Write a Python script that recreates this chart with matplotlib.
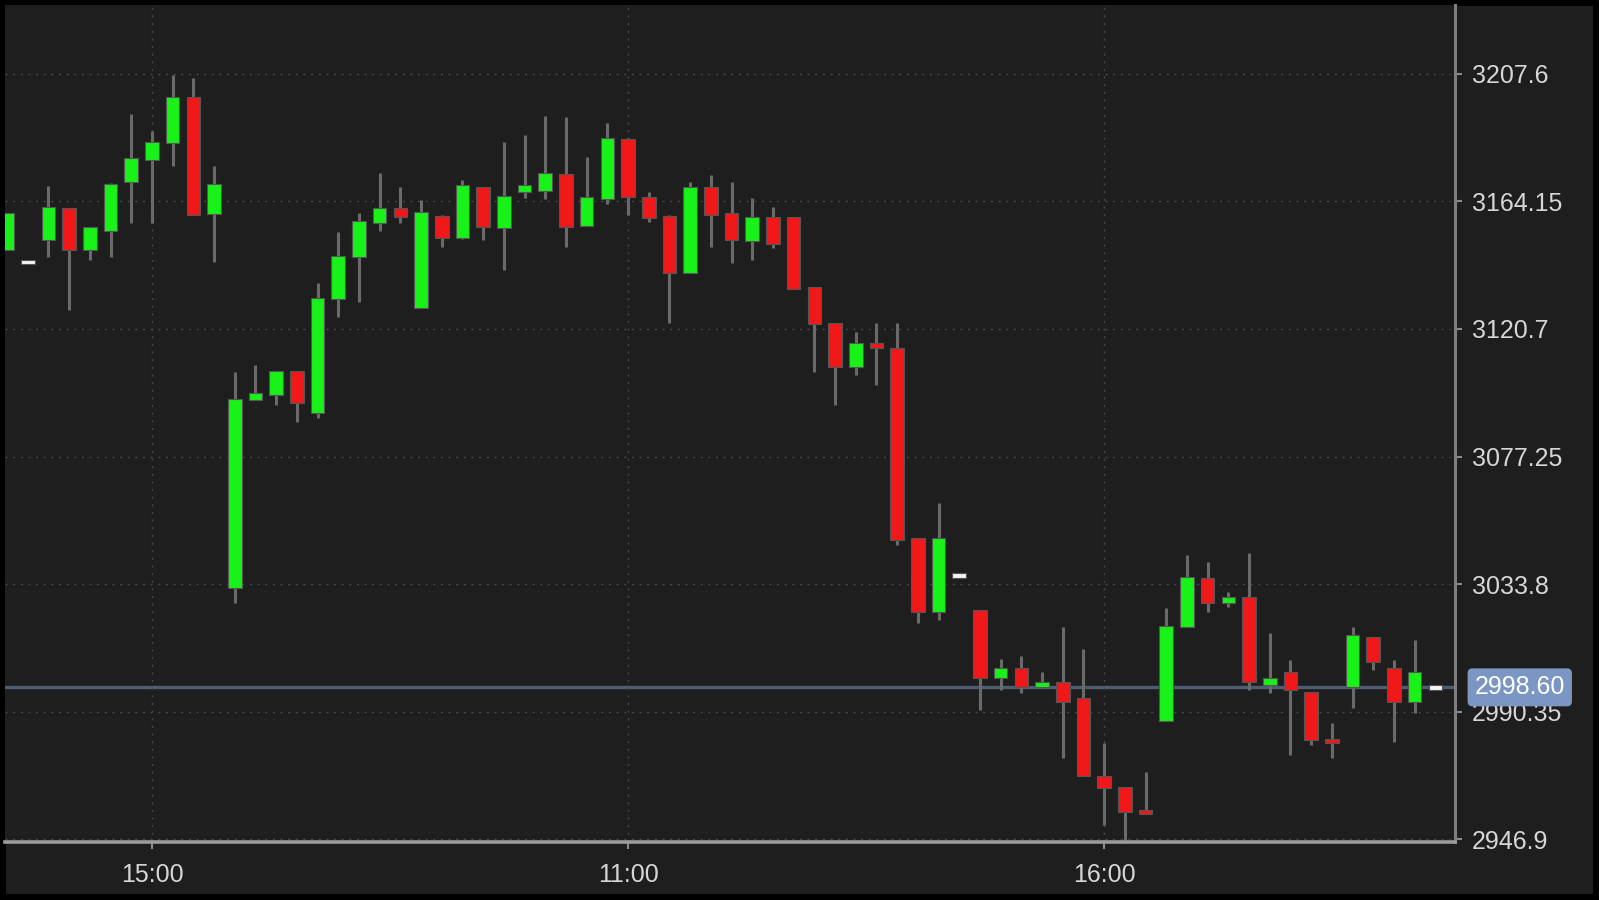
import matplotlib
matplotlib.use("Agg")
import matplotlib.pyplot as plt
import matplotlib.transforms as mtransforms
import numpy as np

plt.rcParams['font.family'] = ['Liberation Sans', 'DejaVu Sans']

# candle values, one per bar
opens = [3147.6, 3143.5, 3151.0, 3161.9, 3147.6, 3154.1, 3170.8, 3178.3, 3184.1, 3199.8,
         3159.9, 3032.4, 3096.5, 3098.2, 3106.4, 3092.1, 3130.9, 3145.2, 3156.8, 3161.9,
         3127.8, 3159.2, 3151.7, 3169.1, 3155.1, 3167.4, 3167.7, 3173.5, 3155.8, 3165.0,
         3185.4, 3165.7, 3159.2, 3139.8, 3169.1, 3160.2, 3150.7, 3158.9, 3158.9, 3135.0,
         3122.7, 3107.7, 3115.9, 3114.2, 3049.5, 3024.2, 3036.8, 3024.9, 3001.7, 3005.1,
         2998.7, 3000.4, 2994.9, 2968.3, 2964.6, 2956.4, 2987.1, 3019.1, 3035.8, 3027.3,
         3029.3, 2999.4, 3003.8, 2997.0, 2980.5, 2998.7, 3015.7, 3005.1, 2993.6, 2998.6]
highs = [3160.2, 3143.5, 3169.4, 3162.0, 3155.5, 3170.5, 3194.0, 3188.2, 3207.3, 3206.2,
         3176.2, 3106.0, 3108.4, 3106.4, 3106.4, 3136.4, 3153.7, 3160.2, 3173.9, 3169.1,
         3164.7, 3159.5, 3171.5, 3169.1, 3184.4, 3186.8, 3193.3, 3192.9, 3179.3, 3190.9,
         3185.8, 3167.4, 3159.5, 3170.8, 3173.2, 3170.8, 3165.3, 3162.3, 3158.9, 3135.0,
         3122.7, 3119.7, 3122.7, 3122.7, 3049.5, 3061.4, 3036.8, 3024.9, 3008.2, 3009.2,
         3003.8, 3019.1, 3011.6, 2979.6, 2964.6, 2969.7, 3025.6, 3043.7, 3041.3, 3031.1,
         3044.3, 3017.1, 3007.9, 2997.0, 2986.4, 3019.1, 3015.7, 3007.9, 3014.7, 2998.6]
lows = [3147.6, 3143.5, 3145.2, 3127.2, 3144.2, 3145.2, 3156.8, 3156.8, 3176.2, 3159.5,
        3143.5, 3027.3, 3096.5, 3094.8, 3089.0, 3090.4, 3124.8, 3129.9, 3154.1, 3156.8,
        3127.8, 3148.6, 3151.5, 3151.0, 3140.8, 3165.3, 3165.0, 3148.6, 3155.8, 3163.3,
        3159.5, 3157.2, 3122.7, 3139.8, 3148.6, 3143.2, 3144.2, 3148.3, 3134.3, 3106.0,
        3094.8, 3105.0, 3101.6, 3047.1, 3020.5, 3021.5, 3036.8, 2990.8, 2997.7, 2996.6,
        2998.7, 2974.5, 2968.3, 2951.6, 2946.5, 2955.9, 2987.1, 3019.1, 3024.2, 3025.9,
        2997.6, 2996.6, 2975.5, 2978.9, 2974.5, 2991.5, 3004.5, 2979.9, 2989.8, 2998.6]
closes = [3160.2, 3143.5, 3162.3, 3147.6, 3155.5, 3170.1, 3179.0, 3184.4, 3199.8, 3159.5,
          3170.1, 3096.8, 3098.9, 3106.4, 3095.5, 3131.3, 3145.6, 3157.5, 3161.9, 3158.9,
          3160.6, 3151.7, 3169.8, 3155.5, 3166.0, 3169.8, 3173.9, 3155.5, 3165.7, 3185.8,
          3165.7, 3158.5, 3139.8, 3169.1, 3159.5, 3151.0, 3158.9, 3149.7, 3134.3, 3122.4,
          3107.7, 3115.9, 3114.2, 3048.8, 3024.2, 3049.5, 3036.8, 3001.7, 3005.1, 2998.7,
          3000.4, 2993.6, 2968.3, 2964.3, 2956.1, 2955.9, 3019.5, 3036.2, 3027.3, 3029.3,
          3000.4, 3001.7, 2997.6, 2980.6, 2980.1, 3016.4, 3007.2, 2993.6, 3003.8, 2998.6]

tick_pos = [7, 30, 53]
tick_labels = ['15:00', '11:00', '16:00']
price_ticks = [2946.9, 2990.35, 3033.8, 3077.25, 3120.7, 3164.15, 3207.6]
last_price = 2998.60

BG = '#1e1e1e'
UP = '#18f218'
DOWN = '#f01818'
FLAT = '#f4f4f4'
WICK = '#6a6a6a'
TXT = '#d6d6d6'

fig = plt.figure(figsize=(15.99, 9.0), dpi=100, facecolor=BG)
fig.patch.set_edgecolor('black')
fig.patch.set_linewidth(7.5)
ax = fig.add_axes([5 / 1599, 58 / 900, 1450 / 1599, 837 / 900])
ax.set_facecolor(BG)

o = np.array(opens)
h = np.array(highs)
l = np.array(lows)
c = np.array(closes)
x = np.arange(len(o))

colors = [UP if cc > oo else (DOWN if cc < oo else FLAT) for oo, cc in zip(o, c)]
flat = np.abs(c - o) < 1.6
heights = np.where(flat, 1.6, np.abs(c - o))
bottoms = np.where(flat, (o + c) / 2 - 0.8, np.minimum(o, c))

ax.vlines(x, l, h, color=WICK, linewidth=2.2, zorder=2)
ax.bar(x, heights, bottom=bottoms, width=0.66,
       color=colors, edgecolor='#555555', linewidth=0.8, zorder=3)

ax.axhline(last_price, color='#4e5e72', linewidth=2.4, zorder=1)

ax.set_xlim(-0.1, 69.95)
ax.set_ylim(2945.9, 3231.1)

ax.set_xticks(tick_pos)
ax.set_xticklabels(tick_labels)
ax.set_yticks(price_ticks)
ax.set_yticklabels([('%.2f' % v).rstrip('0') for v in price_ticks])
ax.yaxis.tick_right()

ax.grid(True, color='#474747', linestyle=(0, (1.5, 4)), linewidth=1.0, zorder=0)
ax.tick_params(axis='both', colors='#8a8a8a', labelcolor=TXT, labelsize=18, length=5, width=1.5)
ax.tick_params(axis='x', pad=10)
ax.tick_params(axis='y', pad=7)

for side in ['top', 'left']:
    ax.spines[side].set_visible(False)
ax.spines['right'].set_color('#7e7e7e')
ax.spines['right'].set_linewidth(2.2)
ax.spines['bottom'].set_color('#9c9c9c')
ax.spines['bottom'].set_linewidth(2.6)

trans = mtransforms.blended_transform_factory(ax.transAxes, ax.transData)
ax.text(1.0135, last_price, '%.2f' % last_price, transform=trans, ha='left', va='center',
        color='white', fontsize=18, zorder=10, clip_on=False,
        bbox=dict(boxstyle='round,pad=0.28,rounding_size=0.2', facecolor='#7b96c2',
                  edgecolor='none'))

plt.savefig('out.png', dpi=100, facecolor=fig.get_facecolor(), edgecolor='black')
